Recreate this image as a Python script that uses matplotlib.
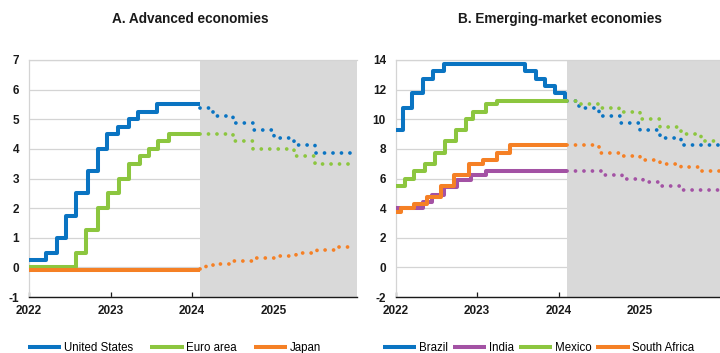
import matplotlib
matplotlib.use("Agg")
import matplotlib.pyplot as plt
from matplotlib import font_manager

# condensed font like the original (Arial Narrow); fall back if missing
names = {f.name for f in font_manager.fontManager.ttflist}
narrow = 'Liberation Sans Narrow' if 'Liberation Sans Narrow' in names else 'Liberation Sans'
plt.rcParams['font.family'] = [narrow, 'DejaVu Sans']

BLUE = '#0a74c2'
GREEN = '#8cc63f'
ORANGE = '#f58025'
PURPLE = '#a352a4'

# Policy rates, decimal years at which the rate changes (last entry = end of line)
# ---- A. Advanced economies ----
us_hist_x = [2022.0, 2022.205, 2022.34, 2022.455, 2022.57, 2022.72, 2022.84, 2022.95,
             2023.085, 2023.22, 2023.335, 2023.565, 2024.1]
us_hist_y = [0.25, 0.5, 1.0, 1.75, 2.5, 3.25, 4.0, 4.5, 4.75, 5.0, 5.25, 5.5, 5.5]
us_proj_x = [2024.1, 2024.25, 2024.5, 2024.75, 2025.0, 2025.25, 2025.5, 2026.0]
us_proj_y = [5.375, 5.125, 4.875, 4.625, 4.375, 4.125, 3.875, 3.875]

ea_hist_x = [2022.0, 2022.57, 2022.70, 2022.84, 2022.97, 2023.105, 2023.22, 2023.355,
             2023.47, 2023.585, 2023.72, 2024.1]
ea_hist_y = [0.0, 0.5, 1.25, 2.0, 2.5, 3.0, 3.5, 3.75, 4.0, 4.25, 4.5, 4.5]
ea_proj_x = [2024.1, 2024.5, 2024.75, 2025.25, 2025.5, 2026.0]
ea_proj_y = [4.5, 4.25, 4.0, 3.75, 3.5, 3.5]

jp_hist_x = [2022.0, 2024.1]
jp_hist_y = [-0.1, -0.1]
jp_proj_x = [2024.1, 2024.17, 2024.25, 2024.33, 2024.47, 2024.73, 2025.0, 2025.27, 2025.53, 2025.8, 2026.0]
jp_proj_y = [-0.05, 0.03, 0.07, 0.13, 0.2, 0.3, 0.4, 0.5, 0.6, 0.7, 0.7]

# ---- B. Emerging-market economies ----
br_hist_x = [2022.0, 2022.09, 2022.205, 2022.34, 2022.455, 2022.59, 2023.585, 2023.72,
             2023.835, 2023.95, 2024.08, 2024.1]
br_hist_y = [9.25, 10.75, 11.75, 12.75, 13.25, 13.75, 13.25, 12.75, 12.25, 11.75, 11.25, 11.25]
br_proj_x = [2024.1, 2024.25, 2024.5, 2024.75, 2025.0, 2025.25, 2025.5, 2026.0]
br_proj_y = [11.25, 10.75, 10.25, 9.75, 9.25, 8.75, 8.25, 8.25]

in_hist_x = [2022.0, 2022.34, 2022.44, 2022.59, 2022.75, 2022.93, 2023.11, 2024.1]
in_hist_y = [4.0, 4.4, 4.9, 5.4, 5.9, 6.25, 6.5, 6.5]
in_proj_x = [2024.1, 2024.52, 2024.78, 2025.03, 2025.27, 2025.52, 2026.0]
in_proj_y = [6.5, 6.25, 6.0, 5.75, 5.5, 5.25, 5.25]

mx_hist_x = [2022.0, 2022.11, 2022.23, 2022.36, 2022.48, 2022.61, 2022.74, 2022.86,
             2022.95, 2023.11, 2023.245, 2024.1]
mx_hist_y = [5.5, 6.0, 6.5, 7.0, 7.75, 8.5, 9.25, 10.0, 10.5, 11.0, 11.25, 11.25]
mx_proj_x = [2024.1, 2024.24, 2024.48, 2024.74, 2025.0, 2025.25, 2025.5, 2025.75, 2026.0]
mx_proj_y = [11.25, 11.0, 10.75, 10.5, 10.0, 9.5, 9.0, 8.5, 8.5]

sa_hist_x = [2022.0, 2022.07, 2022.23, 2022.38, 2022.55, 2022.72, 2022.9, 2023.07,
             2023.245, 2023.4, 2024.1]
sa_hist_y = [3.75, 4.0, 4.25, 4.75, 5.5, 6.25, 7.0, 7.25, 7.75, 8.25, 8.25]
sa_proj_x = [2024.1, 2024.5, 2024.75, 2025.0, 2025.25, 2025.5, 2025.75, 2026.0]
sa_proj_y = [8.25, 7.75, 7.5, 7.25, 7.0, 6.75, 6.5, 6.5]

years = [2022, 2023, 2024, 2025]
proj_start = 2024.1

panel_a = [('United States', BLUE, us_hist_x, us_hist_y, us_proj_x, us_proj_y),
           ('Euro area', GREEN, ea_hist_x, ea_hist_y, ea_proj_x, ea_proj_y),
           ('Japan', ORANGE, jp_hist_x, jp_hist_y, jp_proj_x, jp_proj_y)]
panel_b = [('Brazil', BLUE, br_hist_x, br_hist_y, br_proj_x, br_proj_y),
           ('India', PURPLE, in_hist_x, in_hist_y, in_proj_x, in_proj_y),
           ('Mexico', GREEN, mx_hist_x, mx_hist_y, mx_proj_x, mx_proj_y),
           ('South Africa', ORANGE, sa_hist_x, sa_hist_y, sa_proj_x, sa_proj_y)]

W, H = 720, 353
fig = plt.figure(figsize=(W / 100, H / 100), dpi=100)
ax_a = fig.add_axes([29 / W, (H - 297) / H, 328 / W, 237 / H])
ax_b = fig.add_axes([395.7 / W, (H - 297) / H, 327.5 / W, 237 / H])


def draw_panel(ax, series, ylim, yticks):
    ax.set_xlim(2022, 2026.02)
    ax.set_ylim(*ylim)
    ax.axvspan(proj_start, 2026.02, color='#d9d9d9', lw=0, zorder=0.8)
    ax.set_yticks(yticks)
    ax.set_yticklabels([str(t) for t in yticks])
    ax.set_xticks(years)
    ax.set_xticklabels([str(y) for y in years])
    ax.grid(axis='y', color='#d4d4d4', lw=0.9)
    ax.set_axisbelow(True)
    for s in ['top', 'left']:
        ax.spines[s].set_color('#d4d4d4')
        ax.spines[s].set_linewidth(0.9)
    ax.spines['right'].set_visible(False)
    ax.spines['bottom'].set_color('#1a1a1a')
    ax.spines['bottom'].set_linewidth(1.0)
    ax.tick_params(axis='y', length=0, pad=7, labelsize=8.5)
    ax.tick_params(axis='x', direction='in', length=3.5, width=0.9, color='#1a1a1a',
                   pad=6, labelsize=8.5)
    for lab in ax.get_xticklabels() + ax.get_yticklabels():
        lab.set_fontweight('bold')
        lab.set_color('#1a1a1a')
    for name, col, hx, hy, px, py in series:
        ax.step(hx, hy, where='post', color=col, lw=2.9, solid_capstyle='butt',
                label=name, zorder=3)
        ax.step(px, py, where='post', color=col, lw=2.7, linestyle=(0, (0.01, 2.25)),
                dash_capstyle='round', zorder=3)


draw_panel(ax_a, panel_a, (-1, 7), list(range(-1, 8)))
draw_panel(ax_b, panel_b, (-2, 14), list(range(-2, 15, 2)))

fig.text(190 / W, 1 - 19 / H, 'A. Advanced economies', ha='center', va='center',
         fontsize=9.8, fontweight='bold', color='#1a1a1a')
fig.text(560 / W, 1 - 19 / H, 'B. Emerging-market economies', ha='center', va='center',
         fontsize=9.8, fontweight='bold', color='#1a1a1a')

ax_a.legend(loc='center left', bbox_to_anchor=(28 / W, 5 / H), bbox_transform=fig.transFigure,
            ncol=3, frameon=False, fontsize=8.3, handlelength=2.9, handletextpad=0.2,
            columnspacing=1.5, borderpad=0, borderaxespad=0)
ax_b.legend(loc='center left', bbox_to_anchor=(383 / W, 5 / H), bbox_transform=fig.transFigure,
            ncol=4, frameon=False, fontsize=8.3, handlelength=2.9, handletextpad=0.2,
            columnspacing=0.45, borderpad=0, borderaxespad=0)

fig.savefig('out.png', dpi=100)
